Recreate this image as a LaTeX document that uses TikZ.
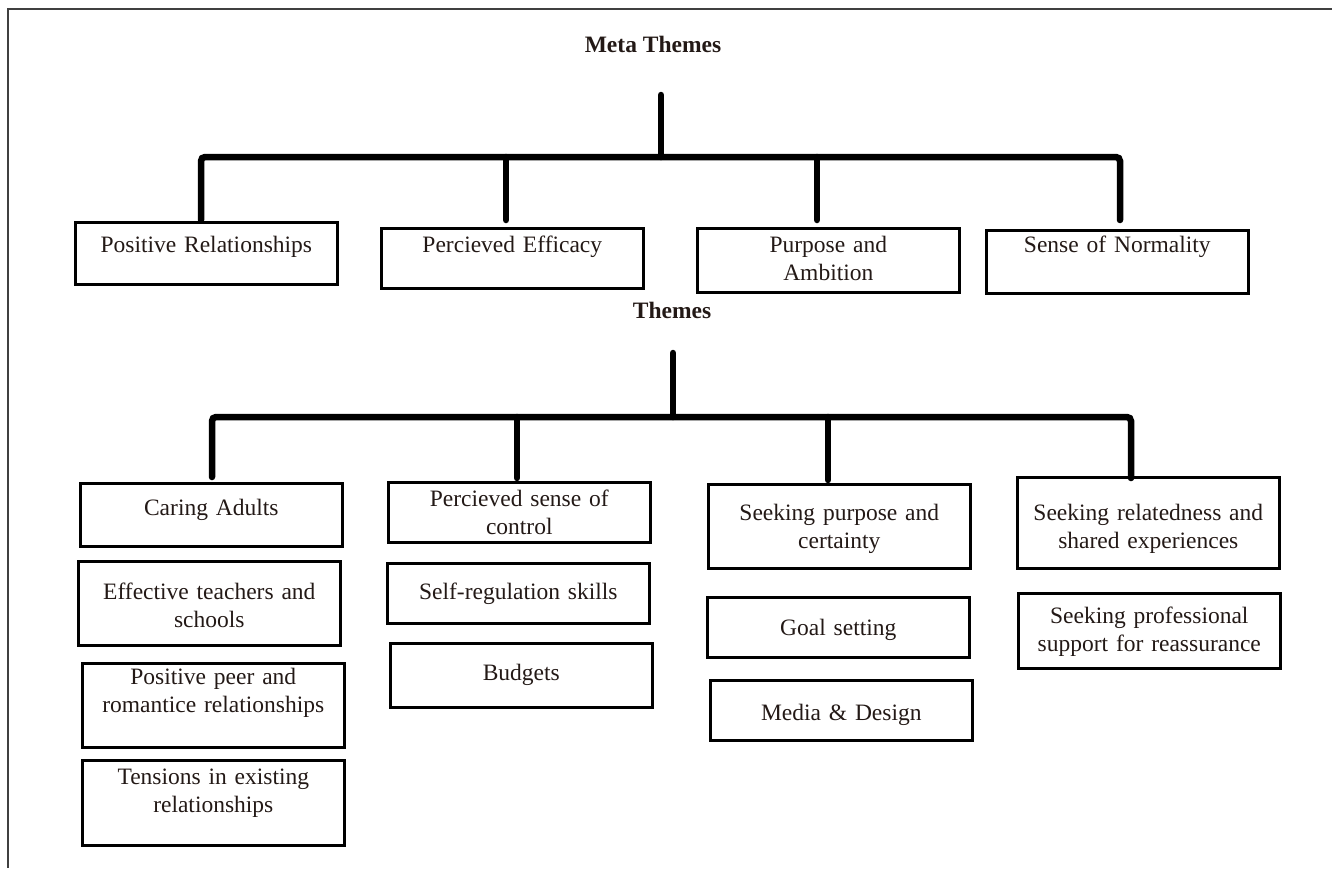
\documentclass[tikz,border=0pt]{standalone}
\usepackage{fontspec}
\setmainfont{Liberation Serif}
\usepackage{tikz}
\definecolor{inkc}{RGB}{35,25,22}
\tikzstyle{box}=[draw=black, line width=2.6pt, inner sep=0pt, text width=262pt, align=center, anchor=north west, text=inkc, font=\fontsize{23.5}{28}\selectfont]
\tikzstyle{head}=[text=inkc, font=\fontsize{23.5}{28}\selectfont\bfseries]
\tikzstyle{link}=[line width=6.5pt, line cap=round, rounded corners=4pt]

\begin{document}
\begin{tikzpicture}[x=1pt, y=-1pt]
        \useasboundingbox (0,0) rectangle (1332,868);
        \draw[line width=1.6pt, black!75] (1332,9) -- (8,9) -- (8,868);

        \node[head] (meta) at (653,44) {Meta Themes};
        \node[head] (themes) at (672,310) {Themes};

        \node[box, text height=30pt, text depth=32pt] (posrel) at (74,221) {Positive Relationships};
        \node[box, text height=24pt, text depth=36pt] (pereff) at (380,227) {Percieved Efficacy};
        \node[box, text height=24pt, text depth=40pt] (puramb) at (696,227) {Purpose and\\ Ambition};
        \node[box, text height=22pt, text depth=41pt] (sennorm) at (985,229) {Sense of Normality};

        \coordinate (mtop) at (661,95);
        \coordinate (mbar) at (0,157);
        \coordinate (m1) at (201,220);
        \coordinate (m2) at (506,220);
        \coordinate (m3) at (817,220);
        \coordinate (m4) at (1120,220);
        \draw[link] (mtop) -- (mtop |- mbar);
        \draw[link] (m1) -- (m1 |- mbar) -- (m4 |- mbar) -- (m4);
        \draw[link] (m2 |- mbar) -- (m2);
        \draw[link] (m3 |- mbar) -- (m3);

        \node[box, text height=32pt, text depth=31pt] (caring) at (79,482) {Caring Adults};
        \node[box, text height=38pt, text depth=46pt] (teach) at (77,560) {Effective teachers and\\ schools};
        \node[box, text height=21pt, text depth=63pt] (peer) at (81,662) {Positive peer and\\ romantice relationships};
        \node[box, text height=24pt, text depth=61pt] (tens) at (81,759) {Tensions in existing\\ relationships};

        \node[box, text height=24pt, text depth=36pt] (control) at (387,481) {Percieved sense of\\ control};
        \node[box, text height=36pt, text depth=24pt] (selfreg) at (386,562) {Self-regulation skills};
        \node[box, text height=37pt, text depth=27pt] (budg) at (389,642) {Budgets};

        \node[box, text height=36pt, text depth=48pt] (purpose) at (707,483) {Seeking purpose and\\ certainty};
        \node[box, text height=38pt, text depth=22pt] (goal) at (706,596) {Goal setting};
        \node[box, text height=40pt, text depth=20pt] (media) at (709,679) {Media \& Design};

        \node[box, text height=43pt, text depth=48pt] (related) at (1016,476) {Seeking relatedness and\\ shared experiences};
        \node[box, text height=30pt, text depth=45pt] (prof) at (1017,592) {Seeking professional\\ support for reassurance};

        \coordinate (ttop) at (673,353);
        \coordinate (tbar) at (0,417);
        \coordinate (t1) at (212,477);
        \coordinate (t2) at (517,478);
        \coordinate (t3) at (828,480);
        \coordinate (t4) at (1131,478);
        \draw[link] (ttop) -- (ttop |- tbar);
        \draw[link] (t1) -- (t1 |- tbar) -- (t4 |- tbar) -- (t4);
        \draw[link] (t2 |- tbar) -- (t2);
        \draw[link] (t3 |- tbar) -- (t3);
    \end{tikzpicture}
\end{document}
